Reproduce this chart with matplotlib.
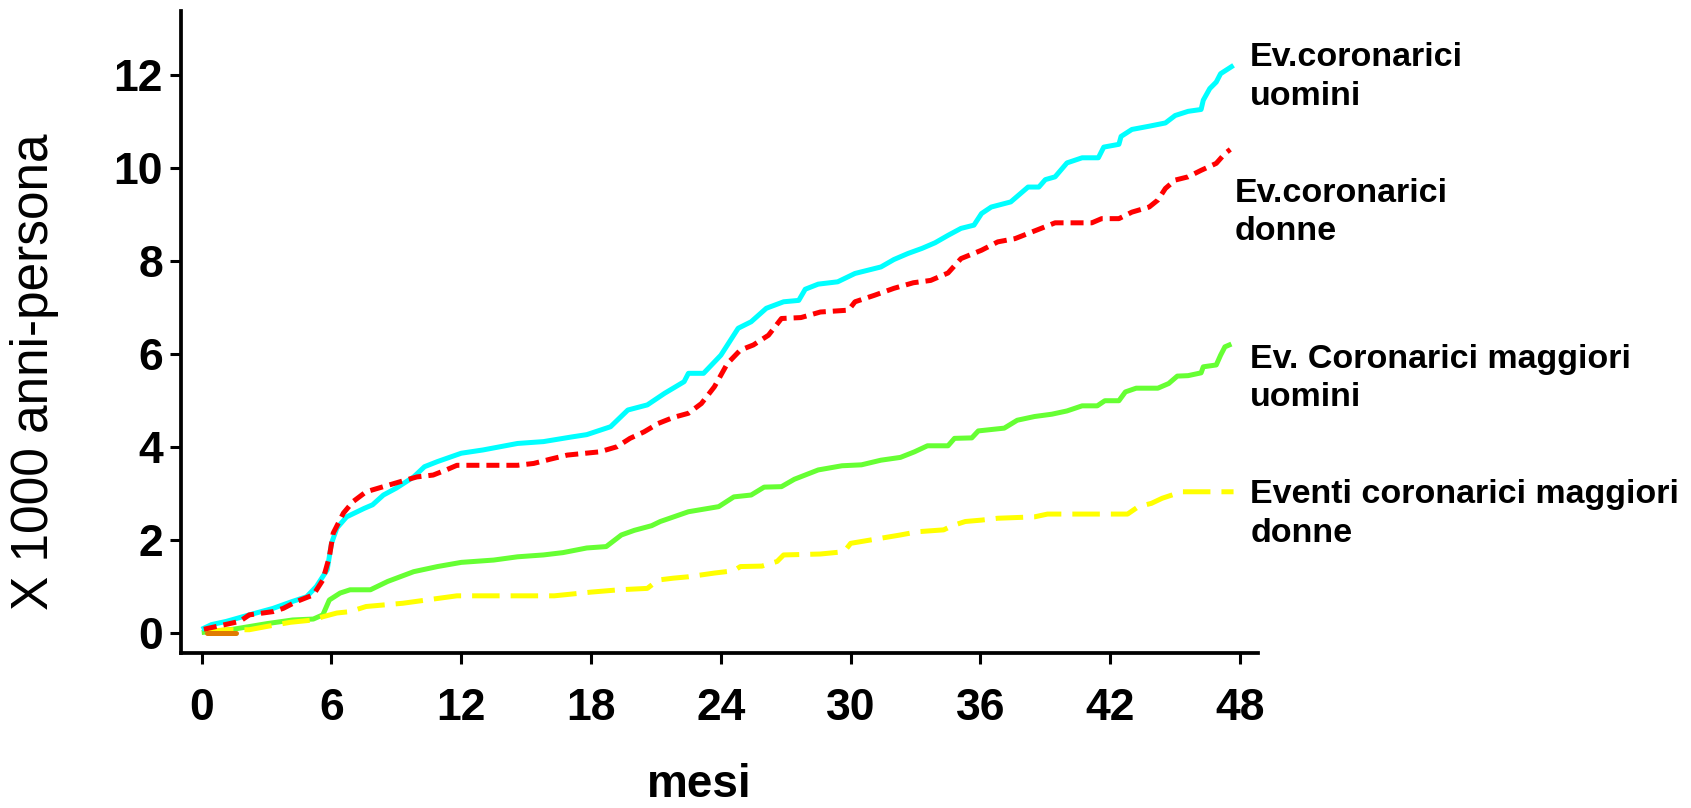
import matplotlib
matplotlib.use("Agg")
import matplotlib.pyplot as plt

# ---------------- data (months, events x 1000 person-years) ----------------
cyan_x = [0.0, 0.45, 1.14, 2.2, 3.3, 4.2, 4.85, 5.3, 5.8, 6.0, 6.25, 6.7, 7.5, 7.9, 8.4, 9.0, 9.8,
          10.3, 10.9, 12.0, 13.0, 14.6, 15.8, 17.1, 17.8, 18.9, 19.7, 20.6, 21.4, 22.3, 22.5, 23.2,
          24.0, 24.8, 25.4, 26.1, 26.9, 27.6, 27.9, 28.5, 29.4, 30.2, 30.8, 31.4, 32.0, 32.65, 33.3,
          33.9, 34.5, 35.1, 35.7, 36.05, 36.5, 37.4, 38.2, 38.7, 39.0, 39.45, 40.0, 40.7, 41.45,
          41.7, 42.4, 42.5, 43.0, 43.8, 44.55, 45.0, 45.6, 46.2, 46.3, 46.6, 46.9, 47.1, 47.7]
cyan_y = [0.07, 0.17, 0.24, 0.38, 0.52, 0.67, 0.77, 0.99, 1.35, 1.92, 2.25, 2.49, 2.67, 2.75, 2.96,
          3.11, 3.35, 3.57, 3.68, 3.86, 3.93, 4.07, 4.11, 4.21, 4.26, 4.43, 4.79, 4.90, 5.15, 5.40,
          5.58, 5.58, 5.97, 6.55, 6.69, 6.98, 7.12, 7.15, 7.39, 7.50, 7.55, 7.73, 7.80, 7.87, 8.03,
          8.16, 8.27, 8.39, 8.55, 8.70, 8.77, 9.02, 9.16, 9.27, 9.59, 9.59, 9.75, 9.81, 10.11, 10.22,
          10.22, 10.45, 10.51, 10.68, 10.83, 10.90, 10.97, 11.13, 11.22, 11.26, 11.46, 11.71, 11.85,
          12.03, 12.21]

red_x = [0.1, 0.68, 1.76, 2.2, 3.3, 3.77, 4.4, 5.16, 5.6, 5.9, 6.08, 6.55, 7.0, 7.6, 8.4, 9.2, 9.95,
         10.7, 11.3, 11.8, 14.6, 15.35, 16.1, 16.9, 18.4, 19.2, 19.8, 20.45, 21.1, 21.8, 22.5, 23.1,
         23.7, 24.3, 24.9, 25.5, 26.2, 26.8, 27.7, 28.6, 29.9, 30.2, 31.1, 32.0, 32.9, 33.7, 34.5,
         35.1, 36.05, 36.8, 37.6, 38.2, 38.8, 39.45, 41.15, 41.6, 42.4, 43.0, 43.8, 44.2, 44.55,
         45.0, 45.6, 46.2, 46.9, 47.3, 47.55]
red_y = [0.07, 0.13, 0.24, 0.38, 0.45, 0.52, 0.67, 0.81, 1.13, 1.63, 2.14, 2.57, 2.82, 3.03, 3.14,
         3.25, 3.35, 3.39, 3.50, 3.60, 3.60, 3.64, 3.73, 3.82, 3.89, 4.00, 4.18, 4.32, 4.50, 4.63,
         4.72, 4.93, 5.29, 5.79, 6.08, 6.19, 6.40, 6.76, 6.78, 6.90, 6.94, 7.12, 7.26, 7.41, 7.53,
         7.58, 7.74, 8.05, 8.23, 8.41, 8.48, 8.59, 8.70, 8.82, 8.82, 8.91, 8.91, 9.05, 9.16, 9.31,
         9.56, 9.74, 9.81, 9.95, 10.10, 10.31, 10.40]

green_x = [0.0, 1.45, 3.0, 4.2, 5.16, 5.6, 5.9, 6.4, 6.86, 7.8, 8.6, 9.8, 10.9, 12.0, 13.5, 14.6,
           15.8, 16.7, 17.8, 18.7, 19.4, 20.0, 20.8, 21.2, 22.5, 23.9, 24.6, 25.4, 26.0, 26.8, 27.4,
           28.5, 29.6, 30.5, 31.4, 32.3, 32.95, 33.55, 34.5, 34.8, 35.6, 35.9, 37.1, 37.7, 38.5,
           39.3, 40.0, 40.7, 41.4, 41.75, 42.4, 42.7, 43.2, 44.2, 44.7, 45.1, 45.6, 46.2, 46.3,
           46.9, 47.1, 47.3, 47.6]
green_y = [0.0, 0.07, 0.19, 0.27, 0.29, 0.38, 0.70, 0.85, 0.92, 0.92, 1.10, 1.31, 1.42, 1.51, 1.56,
           1.63, 1.67, 1.72, 1.82, 1.85, 2.10, 2.20, 2.30, 2.39, 2.60, 2.71, 2.92, 2.96, 3.13, 3.14,
           3.30, 3.50, 3.59, 3.61, 3.71, 3.77, 3.89, 4.02, 4.02, 4.18, 4.19, 4.34, 4.40, 4.57, 4.65,
           4.70, 4.77, 4.88, 4.88, 4.99, 4.99, 5.18, 5.26, 5.26, 5.36, 5.52, 5.53, 5.59, 5.72, 5.76,
           5.97, 6.15, 6.21]

yellow_x = [0.2, 1.14, 2.2, 3.0, 4.1, 5.16, 5.6, 6.25, 6.86, 7.6, 9.3, 10.7, 11.8, 16.3, 18.0, 19.3,
            20.6, 21.1, 21.8, 22.5, 23.7, 24.6, 24.9, 25.9, 26.6, 26.9, 28.6, 29.7, 30.0, 31.4, 32.3,
            33.1, 34.3, 34.7, 35.3, 36.05, 36.8, 38.5, 39.1, 42.8, 43.3, 43.9, 44.4, 44.85, 45.3, 47.7]
yellow_y = [0.02, 0.06, 0.06, 0.13, 0.22, 0.27, 0.34, 0.42, 0.45, 0.56, 0.63, 0.72, 0.79, 0.79, 0.87,
            0.92, 0.95, 1.13, 1.17, 1.20, 1.28, 1.33, 1.42, 1.43, 1.53, 1.67, 1.69, 1.74, 1.92, 2.03,
            2.10, 2.17, 2.21, 2.30, 2.39, 2.42, 2.46, 2.49, 2.55, 2.55, 2.71, 2.78, 2.89, 2.96, 3.03,
            3.03]

orange_x = [0.24, 1.6]
orange_y = [0.0, 0.0]

labels = ["Ev.coronarici\nuomini", "Ev.coronarici\ndonne",
          "Ev. Coronarici maggiori\nuomini", "Eventi coronarici maggiori\ndonne"]
label_pos = [(48.47, 11.96), (47.76, 9.04), (48.47, 5.47), (48.47, 2.55)]

xticks = [0, 6, 12, 18, 24, 30, 36, 42, 48]
yticks = [0, 2, 4, 6, 8, 10, 12]
xlabel = "mesi"
ylabel = "X 1000 anni-persona"

# ---------------- figure ----------------
W, H = 1691, 808
fig = plt.figure(figsize=(W / 100, H / 100), dpi=100)
fig.patch.set_facecolor("white")
FONT = "Liberation Sans"

ax_l, ax_r, ax_b, ax_t = 181, 1258, 653, 11
ax = fig.add_axes([ax_l / W, 1 - ax_b / H, (ax_r - ax_l) / W, (ax_b - ax_t) / H])

lw = 3.6
ax.plot(green_x, green_y, color="#66FF33", lw=lw, zorder=2, solid_capstyle="butt")
ax.plot(yellow_x, yellow_y, color="#FFFF00", lw=lw, ls=(0, (5.5, 2.2)), zorder=3)
ax.plot(orange_x, orange_y, color="#E07B00", lw=lw, zorder=3.5, solid_capstyle="round")
ax.plot(cyan_x, cyan_y, color="#00FFFF", lw=lw, zorder=4, solid_capstyle="butt")
ax.plot(red_x, red_y, color="#FF0000", lw=lw, ls=(0, (2.6, 1.4)), zorder=5)

ax.set_xlim(-0.957, 48.83)
ax.set_ylim(-0.441, 13.38)
ax.set_xticks(xticks)
ax.set_yticks(yticks)
ax.set_xticklabels([str(t) for t in xticks])
ax.set_yticklabels([str(t) for t in yticks])

for s in ["top", "right"]:
    ax.spines[s].set_visible(False)
for s in ["left", "bottom"]:
    ax.spines[s].set_linewidth(2.7)
    ax.spines[s].set_color("black")

ax.tick_params(axis="both", direction="out", length=8, width=2.2, color="black")
ax.tick_params(axis="y", pad=5)
ax.tick_params(axis="x", pad=17)
for lab in ax.get_xticklabels() + ax.get_yticklabels():
    lab.set_fontfamily(FONT)
    lab.set_fontweight("bold")
    lab.set_fontsize(32)

for txt, (tx, ty) in zip(labels, label_pos):
    ax.text(tx, ty, txt, ha="left", va="center", fontsize=24.5, fontweight="bold",
            family=FONT, linespacing=1.3, clip_on=False)

fig.text(699 / W, 1 - 785 / H, xlabel, ha="center", va="center", fontsize=33,
         fontweight="bold", family=FONT)
fig.text(34.5 / W, 1 - 372 / H, ylabel, ha="center", va="center", rotation=90,
         fontsize=37, family=FONT)

fig.savefig("out.png", dpi=100, facecolor="white")
